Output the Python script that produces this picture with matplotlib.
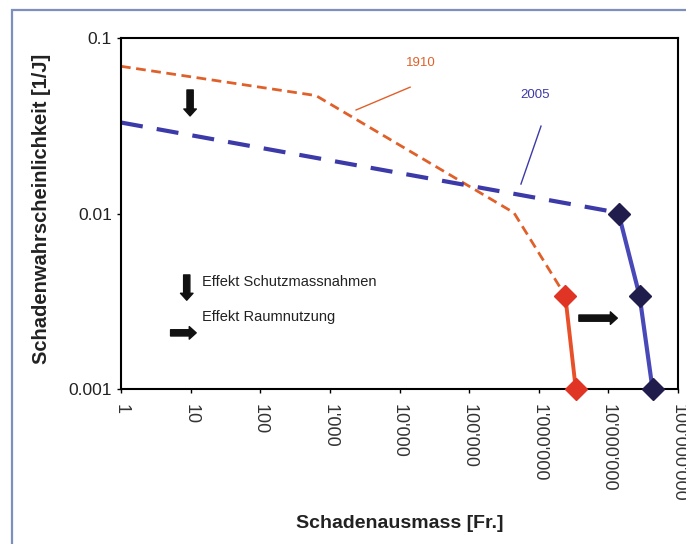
import matplotlib
matplotlib.use('Agg')
import matplotlib.pyplot as plt
from matplotlib.patches import Rectangle

plt.rcParams['font.family'] = ['Liberation Sans', 'DejaVu Sans']

# 1910 curve
x1910_dash = [1, 630, 4.4e5, 2.4e6]
y1910_dash = [0.069, 0.047, 0.0101, 0.0034]
x1910_pts = [2.4e6, 3.4e6]
y1910_pts = [0.0034, 0.001]

# 2005 curve
x2005_dash = [1, 1.4e7]
y2005_dash = [0.033, 0.0101]
x2005_pts = [1.4e7, 2.8e7, 4.3e7]
y2005_pts = [0.01, 0.0034, 0.001]

xticks = [1, 10, 100, 1e3, 1e4, 1e5, 1e6, 1e7, 1e8]
xticklabels = ["1", "10", "100", "1'000", "10'000", "100'000",
               "1'000'000", "10'000'000", "100'000'000"]
yticks = [0.001, 0.01, 0.1]
yticklabels = ["0.001", "0.01", "0.1"]

fig = plt.figure(figsize=(6.86, 5.44), dpi=100)
fig.patches.append(Rectangle((12/686, -0.1), 1.2, 1 - 10/544 + 0.1,
                             transform=fig.transFigure, fill=False,
                             edgecolor='#7d8fbd', lw=1.6))
ax = fig.add_axes([0.1764, 0.2849, 0.812, 0.6452])
ax.set_xscale('log')
ax.set_yscale('log')
ax.set_xlim(1, 1e8)
ax.set_ylim(0.001, 0.1)

ax.plot(x1910_dash, y1910_dash, color='#e0602a', lw=2, dashes=(3.5, 2))
ax.plot(x1910_pts, y1910_pts, color='#e8502a', lw=2.8, marker='D', ms=11,
        mfc='#e03525', mec='#e03525', clip_on=False, zorder=4)
ax.plot(x2005_dash, y2005_dash, color='#3c3aa8', lw=3, dashes=(5.3, 3.4))
ax.plot(x2005_pts, y2005_pts, color='#4848b8', lw=3, marker='D', ms=11,
        mfc='#201c4c', mec='#201c4c', clip_on=False, zorder=4)

ax.set_xticks(xticks)
ax.set_xticklabels(xticklabels, rotation=270, fontsize=13, color='#333333')
ax.minorticks_off()
ax.set_yticks(yticks)
ax.set_yticklabels(yticklabels, fontsize=12.5, color='#222222')
ax.tick_params(axis='both', direction='out', length=3, width=1)
ax.tick_params(axis='x', pad=8)
for s in ax.spines.values():
    s.set_linewidth(1.5)

ax.set_xlabel('Schadenausmass [Fr.]', fontsize=14, fontweight='bold',
              color='#222222', va='center')
ax.xaxis.set_label_coords(0.5, -0.382)
ax.set_ylabel('Schadenwahrscheinlichkeit [1/J]', fontsize=14.5,
              fontweight='bold', color='#222222', va='center')
ax.yaxis.set_label_coords(-0.142, 0.513)

# curve labels and leader lines
ax.text(0.539, 0.929, '1910', transform=ax.transAxes, color='#e0602a',
        fontsize=9.5, ha='center', va='center')
ax.plot([0.519, 0.422], [0.860, 0.795], transform=ax.transAxes,
        color='#e0602a', lw=1)
ax.text(0.743, 0.838, '2005', transform=ax.transAxes, color='#3c3aa8',
        fontsize=9.5, ha='center', va='center')
ax.plot([0.754, 0.718], [0.749, 0.584], transform=ax.transAxes,
        color='#3c3aa8', lw=1)

# block arrows
arrow_kw = dict(arrowstyle='simple,head_length=0.5,head_width=0.9,tail_width=0.45',
                color='#111111', shrinkA=0, shrinkB=0)
ax.annotate('', xy=(0.124, 0.778), xytext=(0.124, 0.852),
            xycoords='axes fraction', arrowprops=arrow_kw)
ax.annotate('', xy=(0.118, 0.253), xytext=(0.118, 0.325),
            xycoords='axes fraction', arrowprops=arrow_kw)
ax.annotate('', xy=(0.135, 0.160), xytext=(0.089, 0.160),
            xycoords='axes fraction', arrowprops=arrow_kw)
ax.annotate('', xy=(0.891, 0.202), xytext=(0.822, 0.202),
            xycoords='axes fraction', arrowprops=arrow_kw)

ax.text(0.145, 0.305, 'Effekt Schutzmassnahmen', transform=ax.transAxes,
        fontsize=10.5, va='center', color='#222222')
ax.text(0.145, 0.205, 'Effekt Raumnutzung', transform=ax.transAxes,
        fontsize=10.5, va='center', color='#222222')

fig.savefig('out.png', dpi=100)
